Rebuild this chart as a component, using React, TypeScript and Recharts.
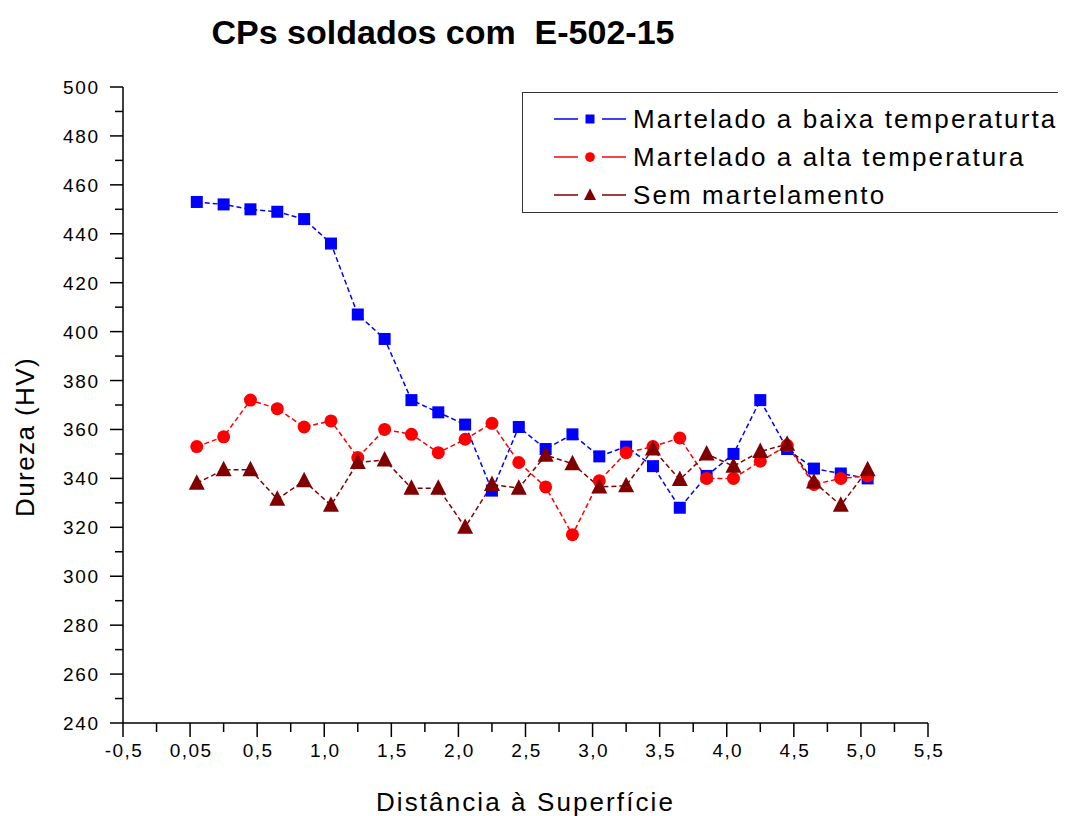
import { LineChart, Line, XAxis, YAxis, Label } from 'recharts';

// distância à superfície (mm)
const distances = [
  0.05, 0.25, 0.45, 0.65, 0.85, 1.05, 1.25, 1.45, 1.65, 1.85, 2.05, 2.25, 2.45,
  2.65, 2.85, 3.05, 3.25, 3.45, 3.65, 3.85, 4.05, 4.25, 4.45, 4.65, 4.85, 5.05,
];

// dureza (HV) por condição
const baixaTemp = [
  453, 452, 450, 449, 446, 436, 407, 397, 372, 367, 362, 335, 361,
  352, 358, 349, 353, 345, 328, 341, 350, 372, 352, 344, 342, 340,
];
const altaTemp = [
  353, 357, 372, 368.5, 361, 363.5, 348.5, 360, 358, 350.5, 356, 362.5, 346.5,
  336.5, 317, 339, 350.5, 353, 356.5, 340, 340, 347, 353.5, 337.5, 340, 341,
];
const semMartelamento = [
  338, 343.5, 343.5, 331.5, 339, 329, 346.5, 347.5, 336, 336, 320, 337.5, 336,
  349.5, 346, 336.5, 337, 352, 339.5, 350, 345, 351, 354, 338.5, 329, 343.5,
];

const xTicks = [
  -0.5, -0.25, 0, 0.25, 0.5, 0.75, 1, 1.25, 1.5, 1.75, 2, 2.25, 2.5, 2.75,
  3, 3.25, 3.5, 3.75, 4, 4.25, 4.5, 4.75, 5, 5.25, 5.5,
];
const yTicks = [
  240, 250, 260, 270, 280, 290, 300, 310, 320, 330, 340, 350, 360, 370, 380,
  390, 400, 410, 420, 430, 440, 450, 460, 470, 480, 490, 500,
];

const series = [
  { key: 'baixa', name: 'Martelado a baixa temperaturta', color: '#0000FF', shape: 'square' },
  { key: 'alta', name: 'Martelado a alta temperatura', color: '#FF0000', shape: 'circle' },
  { key: 'sem', name: 'Sem martelamento', color: '#800000', shape: 'triangle' },
];

const data = distances.map((d, i) => ({
  x: d,
  baixa: baixaTemp[i],
  alta: altaTemp[i],
  sem: semMartelamento[i],
}));

const FONT = '"Liberation Sans", Arial, sans-serif';

function Marker({ shape, color, cx, cy, s = 1 }: { shape: string; color: string; cx: number; cy: number; s?: number }) {
  if (shape === 'square') {
    return <rect x={cx - 6 * s} y={cy - 6 * s} width={12 * s} height={12 * s} fill={color} />;
  }
  if (shape === 'circle') {
    return <circle cx={cx} cy={cy} r={6.5 * s} fill={color} />;
  }
  return (
    <polygon
      points={`${cx},${cy - 9 * s} ${cx - 8 * s},${cy + 6.5 * s} ${cx + 8 * s},${cy + 6.5 * s}`}
      fill={color}
    />
  );
}

const makeDot = (shape: string, color: string) => (props: any) => {
  const { cx, cy, index } = props;
  if (cx == null || cy == null) return <g key={index} />;
  return <Marker key={index} shape={shape} color={color} cx={cx} cy={cy} />;
};

const isMajor = (v: number, step: number) => Math.abs(v / step - Math.round(v / step)) < 1e-6;

const fmtX = (v: number) => (v === 0 ? '0,05' : v.toFixed(1).replace('.', ','));

const XTick = ({ x, y, payload }: any) => {
  const major = isMajor(payload.value, 0.5);
  return (
    <g>
      <line x1={x} y1={y} x2={x} y2={y + (major ? 14 : 9)} stroke="#000" strokeWidth={1.5} />
      {major && (
        <text x={x + 1} y={y + 34} textAnchor="middle" fontSize={19} letterSpacing={1.4} fontFamily={FONT} fill="#000">
          {fmtX(payload.value)}
        </text>
      )}
    </g>
  );
};

const YTick = ({ x, y, payload }: any) => {
  const major = isMajor(payload.value, 20);
  return (
    <g>
      <line x1={x} y1={y} x2={x - (major ? 13 : 8)} y2={y} stroke="#000" strokeWidth={1.5} />
      {major && (
        <text x={x - 23} y={y + 7} textAnchor="end" fontSize={19} letterSpacing={1.8} fontFamily={FONT} fill="#000">
          {payload.value}
        </text>
      )}
    </g>
  );
};

const LegendBox = () => (
  <div
    style={{
      position: 'absolute',
      left: 514,
      top: 84,
      border: '1.5px solid #333',
      width: 540,
      height: 121,
      background: '#fff',
      boxSizing: 'border-box',
      paddingTop: 7,
      zIndex: 2,
    }}
  >
    {series.map((s) => (
      <div key={s.key} style={{ display: 'flex', alignItems: 'center', height: 38 }}>
        <svg width={80} height={30} style={{ marginLeft: 28 }}>
          <line x1={3} y1={15} x2={27} y2={15} stroke={s.color} strokeWidth={1.5} />
          <Marker shape={s.shape} color={s.color} cx={39} cy={15} s={0.75} />
          <line x1={51} y1={15} x2={75} y2={15} stroke={s.color} strokeWidth={1.5} />
        </svg>
        <span
          style={{
            fontFamily: FONT,
            fontSize: 26,
            color: '#000',
            marginLeft: 2,
            letterSpacing: 2.1,
            whiteSpace: 'nowrap',
          }}
        >
          {s.name}
        </span>
      </div>
    ))}
  </div>
);

export default function App() {
  return (
    <div style={{ position: 'relative', width: 1058, height: 808 }}>
      <div
        style={{
          position: 'absolute',
          left: 0,
          width: 870,
          top: 5,
          textAlign: 'center',
          fontFamily: FONT,
          fontWeight: 'bold',
          fontSize: 34,
          color: '#000',
          whiteSpace: 'pre',
          zIndex: 2,
        }}
      >
        {'CPs soldados com  E-502-15'}
      </div>
      <LegendBox />
      <LineChart
        width={1058}
        height={808}
        data={data}
        margin={{ top: 79, right: 138, bottom: 33, left: 35 }}
      >
        <XAxis
          dataKey="x"
          type="number"
          domain={[-0.5, 5.5]}
          ticks={xTicks}
          interval={0}
          tickSize={0}
          tickMargin={0}
          tickLine={false}
          tick={<XTick />}
          height={60}
          axisLine={{ stroke: '#000', strokeWidth: 1.5 }}
        >
          <Label
            content={({ viewBox }: any) => (
              <text
                x={viewBox.x + viewBox.width / 2}
                y={viewBox.y + 88}
                textAnchor="middle"
                fontSize={26}
                fontFamily={FONT}
                fill="#000"
                letterSpacing={2.1}
              >
                Distância à Superfície
              </text>
            )}
          />
        </XAxis>
        <YAxis
          type="number"
          domain={[240, 500]}
          ticks={yTicks}
          interval={0}
          tickSize={0}
          tickMargin={0}
          tickLine={false}
          tick={<YTick />}
          width={80}
          axisLine={{ stroke: '#000', strokeWidth: 1.5 }}
        >
          <Label
            content={({ viewBox }: any) => {
              const cx = 17;
              const cy = viewBox.y + viewBox.height / 2 + 32;
              return (
                <text
                  x={cx}
                  y={cy}
                  transform={`rotate(-90 ${cx} ${cy})`}
                  textAnchor="middle"
                  dominantBaseline="central"
                  fontSize={26}
                  fontFamily={FONT}
                  fill="#000"
                  letterSpacing={1.4}
                >
                  Dureza (HV)
                </text>
              );
            }}
          />
        </YAxis>
        {series.map((s) => (
          <Line
            key={s.key}
            dataKey={s.key}
            name={s.name}
            stroke={s.color}
            strokeWidth={1.5}
            strokeDasharray="5 3"
            dot={makeDot(s.shape, s.color)}
            activeDot={false}
            isAnimationActive={false}
          />
        ))}
      </LineChart>
    </div>
  );
}
